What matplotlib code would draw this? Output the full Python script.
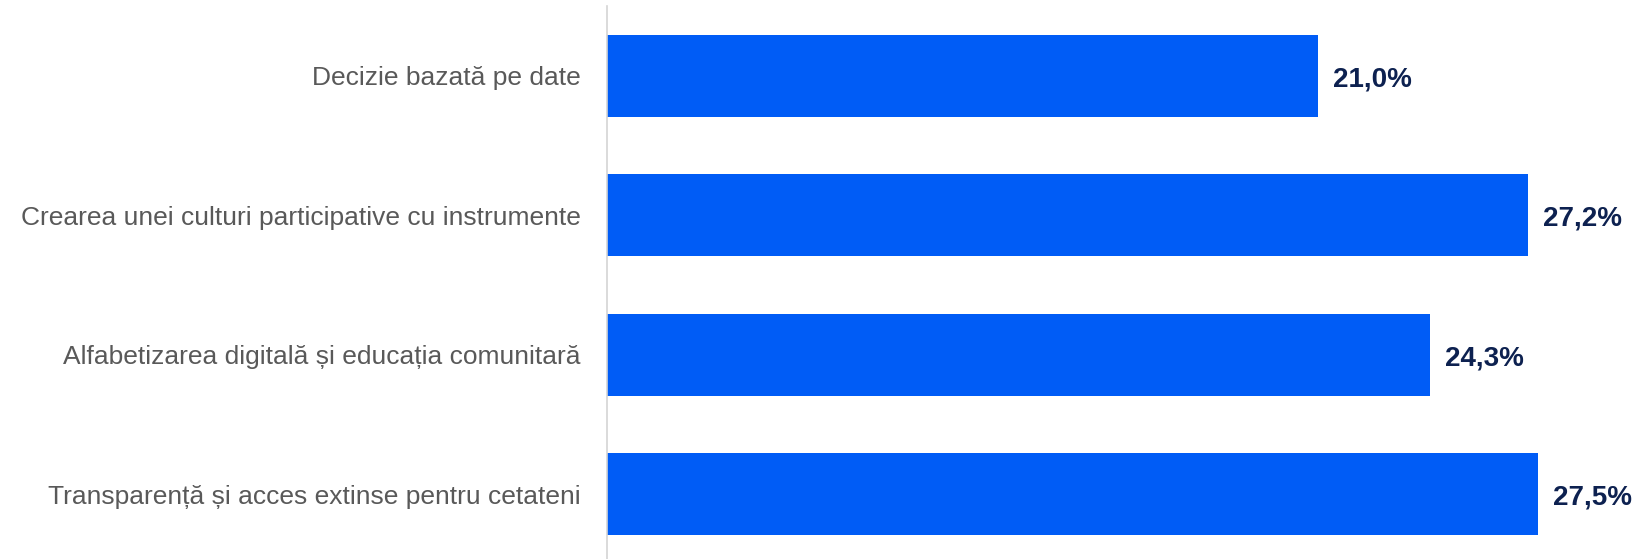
import matplotlib.pyplot as plt

plt.rcParams['font.family'] = ['Liberation Sans', 'DejaVu Sans']

# date
categorii = [
    "Decizie bazată pe date",
    "Crearea unei culturi participative cu instrumente",
    "Alfabetizarea digitală și educația comunitară",
    "Transparență și acces extinse pentru cetateni",
]
procente = [21.0, 27.2, 24.3, 27.5]
etichete = ["21,0%", "27,2%", "24,3%", "27,5%"]

fig = plt.figure(figsize=(16.38, 5.59), dpi=100)
ax = fig.add_axes([0.3706, -0.009, 1 - 0.3706, 0.998])

y = list(range(len(categorii)))
bars = ax.barh(y, procente, height=0.59, color="#005cf6")

# etichete cu valori
for bar, txt in zip(bars, etichete):
    ax.annotate(txt, (bar.get_width(), bar.get_y() + bar.get_height() / 2),
                xytext=(11, -2.5), textcoords="offset points",
                ha="left", va="center", fontsize=20, fontweight="bold",
                color="#0d2150")

ax.set_yticks(y)
ax.set_yticklabels(categorii, fontsize=19, color="#595959")
for lbl in ax.get_yticklabels():
    lbl.set_y(lbl.get_position()[1])
ax.tick_params(axis="y", length=0, pad=19)
ax.set_xticks([])
ax.set_xlim(0, 30.45)
ax.set_ylim(3.5, -0.5)

for s in ["top", "right", "bottom"]:
    ax.spines[s].set_visible(False)
ax.spines["left"].set_color("#d4d4d4")
ax.spines["left"].set_linewidth(1.2)

fig.savefig("out.png", dpi=100, facecolor="white")
